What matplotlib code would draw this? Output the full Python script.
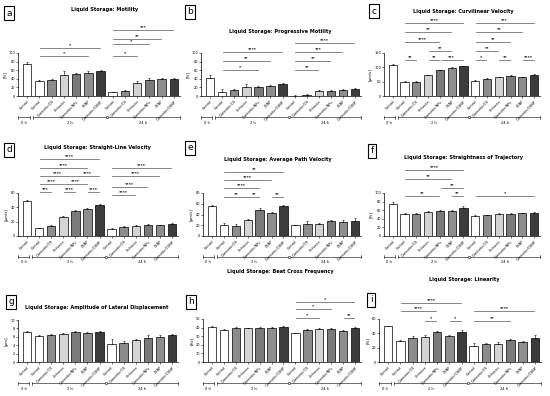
import matplotlib
matplotlib.use("Agg")
import matplotlib.pyplot as plt
import numpy as np
from matplotlib.transforms import blended_transform_factory

W, H = 550, 396

labels = ["Control", "Control", "Quercetin/CS", "Chitosan", "Quercetin/NPs", "CSNP", "Quercetin/CSNP",
          "Control", "Quercetin/CS", "Chitosan", "Quercetin/NPs", "CSNP", "Quercetin/CSNP"]
bar_colors = ["white", "white", "#8c8c8c", "#d4d4d4", "#7a7a7a", "#8e8e8e", "#3c3c3c",
              "white", "#8c8c8c", "#d4d4d4", "#7a7a7a", "#8e8e8e", "#3c3c3c"]
groups = ["0 h", "2 h", "24 h"]

# a - motility
motility = [74, 35, 37.5, 48, 52, 54, 58, 9, 12.5, 31, 38, 38.5, 40]
motility_err = [5, 3, 3, 10, 2, 3, 2, 1, 2, 5, 5, 3, 2]
motility_sig = [(1, 5, 92, "*"), (1, 6, 112, "*"), (7, 9, 92, "*"), (7, 10, 120, "*"),
                (7, 11, 133, "**"), (7, 12, 154, "***")]
# b - progressive motility
progressive = [41, 10, 14, 20, 22, 23, 28, 1, 3, 12, 12.5, 15, 16]
progressive_err = [7, 7, 2, 9, 2, 3, 1.5, 0.5, 1, 2, 1.5, 1.5, 1.5]
progressive_sig = [(1, 4, 61, "*"), (1, 5, 82, "**"), (1, 6, 102, "****"), (7, 9, 61, "**"),
                   (7, 10, 82, "**"), (7, 11, 102, "***"), (7, 12, 124, "****")]
# c - VCL
vcl = [109, 49, 49, 72, 89, 97, 103, 53, 61, 66, 70, 66, 74]
vcl_err = [2, 2, 2, 3, 2, 3, 2, 2, 3, 2, 2, 2, 3]
vcl_sig = [(1, 2, 127, "**"), (3, 4, 127, "**"), (4, 6, 127, "***"), (3, 5, 156, "**"),
           (1, 4, 190, "****"), (1, 5, 224, "**"), (1, 6, 253, "****"),
           (7, 8, 127, "*"), (9, 10, 127, "**"), (11, 12, 127, "****"), (7, 9, 156, "**"),
           (7, 10, 190, "**"), (7, 11, 224, "**"), (7, 12, 253, "***")]
# d - VSL
vsl = [49, 11, 14.5, 27, 35, 37.5, 43.6, 10, 12, 14.5, 15.5, 15, 17]
vsl_err = [0.8, 0.8, 0.8, 1, 1, 1, 1, 1, 1.5, 0.8, 1, 0.8, 0.8]
vsl_sig = [(1, 2, 62, "***"), (3, 4, 62, "****"), (5, 6, 62, "****"), (1, 3, 72.7, "****"),
           (3, 5, 72.7, "****"), (1, 4, 83.4, "****"), (4, 6, 83.4, "****"), (1, 5, 95, "****"),
           (1, 6, 107, "****"), (7, 9, 57.7, "****"), (7, 10, 69, "****"), (7, 11, 83.4, "****"),
           (7, 12, 95, "****")]
# e - VAP
vap = [56, 20.6, 19, 29, 48, 42, 56, 20, 22, 23, 27.5, 26, 28]
vap_err = [1, 3, 4, 2.5, 4, 2, 1, 1, 5, 1, 2, 3, 6]
vap_sig = [(1, 3, 72, "**"), (3, 4, 72, "**"), (5, 6, 72, "**"), (1, 4, 89, "****"),
           (1, 5, 105, "****"), (1, 6, 119, "**")]
# f - STR
straightness = [74, 52, 52, 55, 59, 59, 66, 47, 49, 51.5, 52, 53, 54]
straightness_err = [5, 1, 2, 2, 1.5, 2, 4, 3, 1, 1, 2, 1, 2]
straightness_sig = [(1, 4, 92, "**"), (5, 6, 92, "**"), (7, 12, 92, "*"), (4, 6, 112, "**"),
                    (1, 5, 133, "**"), (1, 6, 153, "****")]
# g - ALH
alh = [7.2, 6.2, 6.4, 6.6, 7.2, 6.9, 7.2, 4.4, 4.6, 5.2, 5.75, 6.0, 6.4]
alh_err = [0.3, 0.15, 0.3, 0.4, 0.2, 0.2, 0.2, 1.0, 0.5, 0.2, 0.6, 0.4, 0.15]
alh_sig = []
# h - BCF
bcf = [41, 37, 39, 39, 39.5, 40, 40.7, 33.3, 37, 38.8, 38.4, 36.4, 39.5]
bcf_err = [0.6, 1.5, 1.5, 0.5, 1, 0.6, 0.8, 0.8, 0.8, 0.6, 0.6, 0.6, 0.8]
bcf_sig = [(7, 9, 51, "*"), (11, 12, 51, "**"), (7, 10, 61.6, "*"), (7, 12, 69.4, "*")]
# i - LIN
linearity = [49.6, 30, 33, 34.5, 41.6, 36.4, 42.5, 23, 24.6, 25.5, 30.7, 27.4, 33]
linearity_err = [0.8, 1, 3, 3, 1.5, 1.5, 2, 3, 2, 3, 1.5, 2.5, 4]
linearity_sig = [(3, 4, 57.6, "*"), (5, 6, 57.6, "*"), (1, 4, 70.9, "****"), (1, 6, 82.7, "****"),
                 (7, 10, 57.6, "**"), (7, 12, 70.9, "****")]

# letter, title, unit, values, errors, brackets, yticks, axes box (px), title pos, letter pos
panels = [
    ("a", "Motility", "[%]", motility, motility_err, motility_sig, np.arange(0, 101, 20),
     (18, 53, 180, 96), (105, 10), (9, 13)),
    ("b", "Progressive Motility", "[%]", progressive, progressive_err, progressive_sig, np.arange(0, 101, 20),
     (201, 53, 361, 96), (280, 32), (190, 12)),
    ("c", "Curvilinear Velocity", "[µm/s]", vcl, vcl_err, vcl_sig, np.arange(0, 151, 50),
     (384, 53, 540, 96), (463, 11), (374, 11)),
    ("d", "Straight-Line Velocity", "[µm/s]", vsl, vsl_err, vsl_sig, np.arange(0, 61, 20),
     (18, 193, 178, 236), (97, 148), (9, 150)),
    ("e", "Average Path Velocity", "[µm/s]", vap, vap_err, vap_sig, np.arange(0, 81, 20),
     (203, 193, 361, 236), (278, 159), (190, 148)),
    ("f", "Straightness of Trajectory", "[%]", straightness, straightness_err, straightness_sig,
     np.arange(0, 101, 20), (384, 193, 540, 236), (463, 158), (372, 151)),
    ("g", "Amplitude of Lateral Displacement", "[µm]", alh, alh_err, alh_sig, np.arange(0, 11, 2),
     (18, 320, 178, 362), (97, 308), (11, 302)),
    ("h", "Beat Cross Frequency", "[Hz]", bcf, bcf_err, bcf_sig, np.arange(0, 51, 10),
     (203, 319, 361, 362), (280, 271), (191, 302)),
    ("i", "Linearity", "[%]", linearity, linearity_err, linearity_sig, np.arange(0, 61, 20),
     (379, 319, 541, 362), (464, 280), (371, 300)),
]

fig = plt.figure(figsize=(W / 100, H / 100), dpi=100)
x = np.arange(len(labels))

for letter, title, unit, vals, errs, sigs, yt, box, tpos, lpos in panels:
    x0, y0, x1, y1 = box
    ax = fig.add_axes([x0 / W, 1 - y1 / H, (x1 - x0) / W, (y1 - y0) / H])
    ax.bar(x, vals, width=0.7, color=bar_colors, edgecolor="black", linewidth=0.5, zorder=2)
    ax.errorbar(x, vals, yerr=[np.zeros(len(errs)), errs], fmt="none", ecolor="black",
                elinewidth=0.4, capsize=1, capthick=0.4, zorder=3)
    ax.set_xlim(-0.75, 12.5)
    ax.set_ylim(yt[0], yt[-1])
    ax.set_yticks(yt)
    ax.set_yticklabels([str(v) for v in yt], fontsize=2.5)
    ax.set_xticks(x)
    ax.set_xticklabels(labels, rotation=45, ha="right", rotation_mode="anchor", fontsize=2.4)
    ax.tick_params(length=1.2, width=0.4, pad=1)
    for s in ["top", "right"]:
        ax.spines[s].set_visible(False)
    for s in ["left", "bottom"]:
        ax.spines[s].set_linewidth(0.5)
    ax.set_ylabel(unit, fontsize=2.8, labelpad=1)

    span = yt[-1] - yt[0]
    for a, b, y, star in sigs:
        ax.plot([a + 0.05, b - 0.05], [y, y], color="#555555", lw=0.5, clip_on=False)
        ax.text((a + b) / 2, y + span * 0.015, star, ha="center", va="bottom",
                fontsize=3.2, fontweight="bold", clip_on=False)

    # time group bracket under x labels
    tr = blended_transform_factory(ax.transData, ax.transAxes)
    hpx = y1 - y0
    yl = -21 / hpx
    tk = 1.5 / hpx
    segs = [(-0.75, 0.2), (0.45, 6.45), (6.55, 12.5)]
    for (s0, s1) in segs:
        ax.plot([s0, s1], [yl, yl], color="black", lw=0.4, transform=tr, clip_on=False)
    for xe in [-0.75, 0.2, 0.45, 12.5]:
        ax.plot([xe, xe], [yl - tk, yl + tk], color="black", lw=0.4, transform=tr, clip_on=False)
    ax.plot([6.5], [yl], marker="o", ms=1.6, mfc="white", mec="black", mew=0.4,
            transform=tr, clip_on=False)
    for gx, g in zip([-0.3, 3.5, 9.5], groups):
        ax.text(gx, yl - 3.5 / hpx, g, ha="center", va="top", fontsize=2.6,
                transform=tr, clip_on=False)

    fig.text(tpos[0] / W, 1 - tpos[1] / H, "Liquid Storage: " + title, ha="center", va="center",
             fontsize=3.6, fontweight="bold")
    fig.text(lpos[0] / W, 1 - lpos[1] / H, letter, ha="center", va="center", fontsize=6.5,
             bbox=dict(boxstyle="square,pad=0.25", fc="white", ec="black", lw=0.8))

fig.savefig("out.png", dpi=100)
